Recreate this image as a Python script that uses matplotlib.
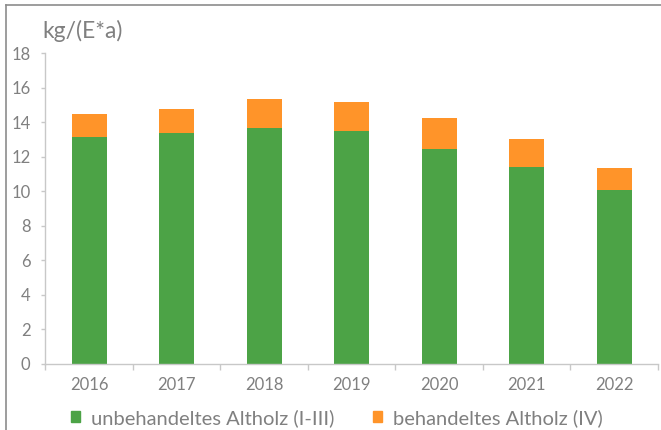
import matplotlib
matplotlib.use("Agg")
import matplotlib.pyplot as plt
import numpy as np
from matplotlib.lines import Line2D
from matplotlib.patches import Patch

plt.rcParams['font.family'] = ['Lato', 'DejaVu Sans']

years = ['2016', '2017', '2018', '2019', '2020', '2021', '2022']
unbehandelt = [13.14, 13.39, 13.66, 13.52, 12.42, 11.41, 10.09]
behandelt = [1.31, 1.39, 1.70, 1.65, 1.80, 1.64, 1.28]
y_ticks = [0, 2, 4, 6, 8, 10, 12, 14, 16, 18]

green = '#4ca346'
orange = '#ff9429'
text_gray = '#808080'
axis_gray = '#c8c8c8'

fig = plt.figure(figsize=(6.61, 4.30), dpi=100)
ax = fig.add_axes([44.5 / 661, 1 - 363.5 / 430, (658 - 44.5) / 661, (363.5 - 53.3) / 430])

x = np.arange(len(years))
ax.bar(x, unbehandelt, width=0.4, color=green, label='unbehandeltes Altholz (I-III)')
ax.bar(x, behandelt, width=0.4, bottom=unbehandelt, color=orange, label='behandeltes Altholz (IV)')

ax.set_xlim(-0.51, 6.5)
ax.set_ylim(0, 18)
ax.set_yticks(y_ticks)
ax.set_xticks(x)
ax.set_xticklabels(years)
ax.set_xticks(np.arange(-0.5, 7, 1), minor=True)

for s in ['top', 'right']:
    ax.spines[s].set_visible(False)
for s in ['left', 'bottom']:
    ax.spines[s].set_color(axis_gray)
    ax.spines[s].set_linewidth(1.0)

ax.tick_params(axis='y', colors=axis_gray, labelcolor=text_gray, length=3, width=1,
               pad=7, labelsize=12)
ax.tick_params(axis='x', which='major', length=0, pad=10, labelcolor=text_gray, labelsize=12)
ax.tick_params(axis='x', which='minor', length=4.5, width=1, colors=axis_gray)

fig.text(42 / 661, 1 - 37.5 / 430, 'kg/(E*a)', fontsize=16.5, color=text_gray, va='baseline')

handles = [Patch(color=green), Patch(color=orange)]
labels = ['unbehandeltes Altholz (I-III)', 'behandeltes Altholz (IV)']
fig.legend(handles, labels, loc='center', bbox_to_anchor=(0.51, 0.028), ncol=2,
           frameon=False, fontsize=14.5, labelcolor=text_gray,
           handlelength=0.45, handleheight=0.45, handletextpad=0.55, columnspacing=1.9)

# Rahmen oben und links
fig.add_artist(Line2D([6 / 661, 1], [1 - 5 / 430, 1 - 5 / 430], color='#8c8c8c', lw=1.2,
                      transform=fig.transFigure))
fig.add_artist(Line2D([6 / 661, 6 / 661], [0, 1 - 5 / 430], color='#8c8c8c', lw=1.2,
                      transform=fig.transFigure))

fig.savefig('out.png', dpi=100)
